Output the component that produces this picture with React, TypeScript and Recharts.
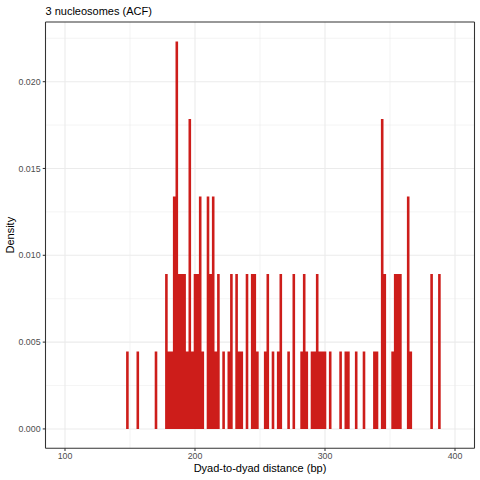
import { AreaChart, Area, XAxis, YAxis, ReferenceLine, CartesianGrid } from "recharts";

// Histogram of dyad-to-dyad distances, binwidth 2 bp (bins centred on even bp).
// Only the non-empty bins are listed; counts.
const binCenters = [
  148, 156, 170, 178, 180, 182, 184, 186, 188, 190, 192, 194, 196, 198, 200, 202, 204, 206,
  210, 212, 214, 216, 218, 222, 226, 228, 232, 234, 236, 240, 244, 246, 248, 254, 256, 260,
  264, 266, 272, 276, 282, 284, 286, 290, 292, 294, 296, 298, 300, 304, 312, 316, 318, 324,
  330, 338, 340, 344, 346, 352, 354, 356, 358, 364, 366, 382, 388,
];
const binCounts = [
  1, 1, 1, 2, 1, 1, 3, 5, 2, 2, 2, 1, 4, 1, 2, 2, 3, 1,
  3, 2, 3, 1, 2, 1, 1, 2, 2, 1, 1, 2, 2, 2, 1, 1, 2, 1,
  1, 2, 1, 2, 1, 2, 1, 1, 1, 2, 1, 1, 1, 1, 1, 1, 1, 1,
  1, 1, 1, 4, 2, 1, 2, 2, 2, 3, 1, 2, 2,
];
const BIN_WIDTH = 2;
// the density scale in the picture implies 112 distances in total
const N_DISTANCES = 112;

const xTicks = [100, 200, 300, 400];
const xMinor = [150, 250, 350];
const yTicks = [0, 0.005, 0.01, 0.015, 0.02];
const yMinor = [0.0025, 0.0075, 0.0125, 0.0175, 0.0225];

// histogram outline: one step per bin, starting at each bin's left edge
// (empty bins between the listed ones are 0)
const countAt = new Map(binCenters.map((c, i) => [c, binCounts[i]]));
const steps: { x: number; density: number }[] = [];
for (let c = binCenters[0]; c <= binCenters[binCenters.length - 1]; c += BIN_WIDTH) {
  steps.push({ x: c - BIN_WIDTH / 2, density: (countAt.get(c) ?? 0) / (N_DISTANCES * BIN_WIDTH) });
}
steps.push({ x: binCenters[binCenters.length - 1] + BIN_WIDTH / 2, density: 0 });

const maxDensity = Math.max(...steps.map((d) => d.density));
const yDomain = [-0.05 * maxDensity, 1.05 * maxDensity];
const xDomain = [85, 415];

const FONT = "Liberation Sans, Arial, sans-serif";
const GRID = "#EBEBEB";
const DARK = "#333333";
const RED = "#CD1D1A";

export default function App() {
  return (
    <div style={{ position: "absolute", left: 0, top: 0, width: 480, height: 480, background: "#fff", fontFamily: FONT }}>
      <AreaChart
        width={480}
        height={480}
        data={steps}
        margin={{ top: 22, right: 5.5, bottom: 11.7, left: 0 }}
      >
        {/* minor then major grid, both under the histogram */}
        <CartesianGrid
          horizontalValues={yMinor}
          verticalValues={xMinor}
          stroke={GRID}
          strokeWidth={0.53}
        />
        <CartesianGrid
          horizontalValues={yTicks}
          verticalValues={xTicks}
          stroke={GRID}
          strokeWidth={1.07}
        />
        <XAxis
          dataKey="x"
          type="number"
          domain={xDomain}
          allowDataOverflow
          ticks={xTicks}
          height={20}
          tickSize={2.75}
          tickMargin={2.2}
          axisLine={{ stroke: DARK, strokeWidth: 1.07 }}
          tickLine={{ stroke: DARK, strokeWidth: 1.07 }}
          tick={{ fill: "#4D4D4D", fontSize: 8.8, fontFamily: FONT }}
        />
        <YAxis
          type="number"
          domain={yDomain}
          allowDataOverflow
          ticks={yTicks}
          width={45.5}
          tickSize={2.75}
          tickMargin={2.2}
          tickFormatter={(v) => Number(v).toFixed(3)}
          axisLine={{ stroke: DARK, strokeWidth: 1.07 }}
          tickLine={{ stroke: DARK, strokeWidth: 1.07 }}
          tick={{ fill: "#4D4D4D", fontSize: 8.8, fontFamily: FONT }}
        />
        <Area
          type="stepAfter"
          dataKey="density"
          baseValue={0}
          fill={RED}
          fillOpacity={1}
          stroke="none"
          dot={false}
          activeDot={false}
          isAnimationActive={false}
        />
        <ReferenceLine x={xDomain[1]} stroke={DARK} strokeWidth={1.07} />
        <ReferenceLine y={yDomain[1]} stroke={DARK} strokeWidth={1.07} />
      </AreaChart>
      <svg
        width={480}
        height={480}
        style={{ position: "absolute", left: 0, top: 0, pointerEvents: "none" }}
        fontFamily={FONT}
      >
        <text x={45.5} y={14.5} fontSize={11} fill="#000">
          3 nucleosomes (ACF)
        </text>
        <text x={260} y={472} fontSize={11} fill="#000" textAnchor="middle">
          Dyad-to-dyad distance (bp)
        </text>
        <text x={14} y={235.2} fontSize={11} fill="#000" textAnchor="middle" transform="rotate(-90 14 235.2)">
          Density
        </text>
      </svg>
    </div>
  );
}
